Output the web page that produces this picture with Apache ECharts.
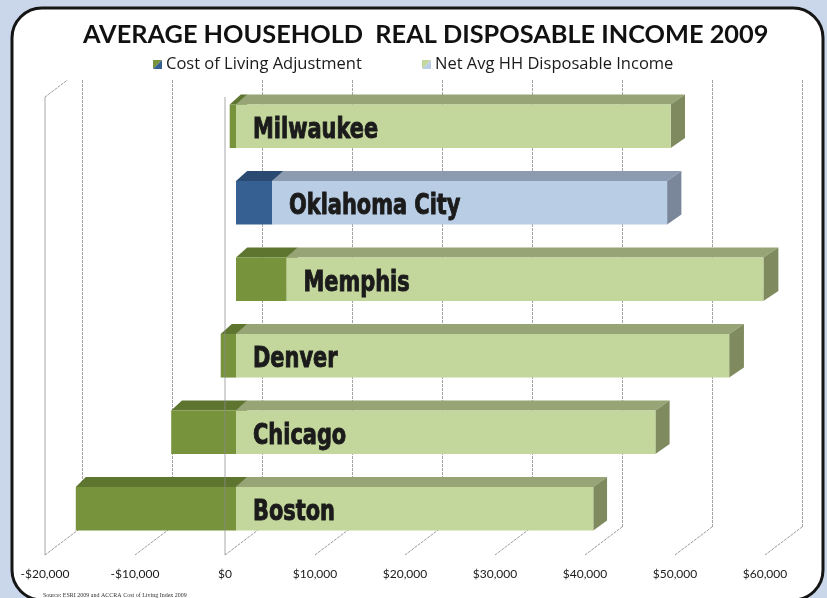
<!DOCTYPE html>
<html><head><meta charset="utf-8">
<script src="https://cdn.jsdelivr.net/npm/echarts@6/dist/echarts.min.js"></script>
<style>html,body{margin:0;padding:0;background:#CAD6EA;} #c{width:827px;height:598px;}</style>
</head><body><div id="c"></div>
<script>
// ---- data ----
const categories = ['Milwaukee', 'Oklahoma City', 'Memphis', 'Denver', 'Chicago', 'Boston'];
const colaValues = [-700, 4000, 5600, -1700, -7200, -17800];
const netValues = [48300, 43900, 53000, 54800, 46600, 39700];
const tickValues = [-20000, -10000, 0, 10000, 20000, 30000, 40000, 50000, 60000];
const seriesNames = ['Cost of Living Adjustment', 'Net Avg HH Disposable Income'];
const titleText = 'AVERAGE HOUSEHOLD  REAL DISPOSABLE INCOME 2009';
const sourceText = 'Source: ESRI 2009 and ACCRA Cost of Living Index 2009';
const highlightCity = 'Oklahoma City';

// ---- styles ----
const palettes = {
  cola: [
    { front: '#77933C', top: '#5E7530', side: '#4F6228' },
    { front: '#376092', top: '#2A4A72', side: '#243F60' }
  ],
  net: [
    { front: '#C3D69B', top: '#97A475', side: '#7F8A5E' },
    { front: '#B9CDE5', top: '#8C9BB0', side: '#7A879B' }
  ]
};
const svgIcon = (a, b) => 'image://data:image/svg+xml;utf8,' + encodeURIComponent(
  "<svg xmlns='http://www.w3.org/2000/svg' width='10' height='10'><polygon points='0,0 10,0 0,10' fill='" + a +
  "'/><polygon points='10,0 10,10 0,10' fill='" + b + "'/></svg>");

// stacked segments (Excel style: negatives stack separately from positives)
const colaData = categories.map((c, i) => [i, 0, colaValues[i]]);
const netData = categories.map((c, i) => {
  const s = colaValues[i] > 0 ? colaValues[i] : 0;
  return [i, s, s + netValues[i]];
});

function money(v) {
  const s = '$' + Math.abs(v).toLocaleString('en-US');
  return v < 0 ? '-' + s : s;
}

function barRender(kind) {
  return function (params, api) {
    const cat = api.value(0);
    const p0 = api.coord([api.value(1), cat]);
    const p1 = api.coord([api.value(2), cat]);
    const band = api.size([0, 1])[1];
    const h = band * 0.57;
    const yt = p0[1] - h / 2, yb = p0[1] + h / 2;
    const x0 = Math.min(p0[0], p1[0]), x1 = Math.max(p0[0], p1[0]);
    const dy = 10;
    const dxAt = x => 10 + 5 * (x - 76) / 690;
    const pal = palettes[kind][categories[cat] === highlightCity ? 1 : 0];
    const children = [
      { type: 'polygon', shape: { points: [[x0, yt], [x1, yt], [x1 + dxAt(x1), yt - dy], [x0 + dxAt(x0), yt - dy]] }, style: { fill: pal.top } },
      { type: 'polygon', shape: { points: [[x1, yt], [x1 + dxAt(x1), yt - dy], [x1 + dxAt(x1), yb - dy], [x1, yb]] }, style: { fill: pal.side } },
      { type: 'rect', shape: { x: x0, y: yt, width: x1 - x0, height: yb - yt }, style: { fill: pal.front } }
    ];
    if (kind === 'net') {
      children.push({
        type: 'text', x: x0 + 17, y: p0[1] + 4, scaleX: 0.83, scaleY: 1.02,
        style: {
          text: categories[cat], x: 0, y: 0, verticalAlign: 'middle', align: 'left',
          fontFamily: "'Liberation Sans Narrow', 'DejaVu Sans Condensed', sans-serif",
          fontWeight: 'bold', fontSize: 28, fill: '#1b1b1b', stroke: '#1b1b1b', lineWidth: 0.9
        }
      });
    }
    return { type: 'group', children };
  };
}

function decoUnder(params, api) {
  const v = api.value(0);
  const b = api.coord([v, 0]);
  return { type: 'line', shape: { x1: b[0], y1: b[1], x2: b[0] + 37, y2: b[1] - 28 }, style: { stroke: '#9a9a9a', lineWidth: 1, lineDash: [3, 1] } };
}
function decoOver(params, api) {
  const v = api.value(0);
  const b = api.coord([v, 0]);
  const t = api.coord([v, 1]);
  const children = [];
  if (v === tickValues[0] || v === 0) {
    children.push({ type: 'line', shape: { x1: b[0], y1: b[1], x2: t[0], y2: t[1] }, style: { stroke: 'rgba(140,140,140,0.75)', lineWidth: 1 } });
  }
  if (v === tickValues[0]) {
    children.push({ type: 'line', shape: { x1: t[0], y1: t[1], x2: t[0] + 22.5, y2: t[1] - 17 }, style: { stroke: '#9a9a9a', lineWidth: 1, lineDash: [3, 1] } });
  }
  return { type: 'group', children };
}

const legendText = { fontFamily: 'Open Sans', fontSize: 16.5, color: '#1a1a1a', padding: [0, 0, 0, -1] };

const chart = echarts.init(document.getElementById('c'));
chart.setOption({
  backgroundColor: '#CAD6EA',
  animation: false,
  graphic: [{
    type: 'rect', z: -10, silent: true,
    shape: { x: 12, y: 8, width: 811, height: 592, r: 30 },
    style: { fill: '#ffffff', stroke: '#151515', lineWidth: 3 }
  }],
  title: [
    { text: titleText, left: 78, top: 17, textStyle: { fontFamily: 'Lato', fontWeight: 'bold', fontSize: 25.3, color: '#111' } },
    { text: sourceText, left: 38, top: 587, textStyle: { fontFamily: 'Liberation Serif', fontWeight: 'normal', fontSize: 6, color: '#333' } }
  ],
  legend: [
    { left: 148, top: 51, itemWidth: 9, itemHeight: 9, textStyle: legendText,
      data: [{ name: seriesNames[0], icon: svgIcon(palettes.cola[0].front, palettes.cola[1].front) }] },
    { left: 417, top: 51, itemWidth: 9, itemHeight: 9, textStyle: legendText,
      data: [{ name: seriesNames[1], icon: svgIcon(palettes.net[0].front, palettes.net[1].front) }] }
  ],
  grid: [
    { left: 56, width: 720, top: 88, height: 459 },
    { left: 82, width: 720, top: 80, height: 447 },
    { left: 45, width: 720, top: 97, height: 458 }
  ],
  xAxis: [
    { gridIndex: 0, type: 'value', min: -20000, max: 60000, interval: 10000, show: false },
    { gridIndex: 1, type: 'value', min: -20000, max: 60000, interval: 10000,
      axisLine: { show: false }, axisTick: { show: false }, axisLabel: { show: false },
      splitLine: { show: true, lineStyle: { color: '#a3a3a3', width: 1, type: [3, 1] } } },
    { gridIndex: 2, type: 'value', min: -20000, max: 60000, interval: 10000,
      axisLine: { show: false }, axisTick: { show: false }, splitLine: { show: false },
      axisLabel: { margin: 13, formatter: money, fontFamily: 'Lato', fontSize: 12, color: '#1a1a1a' } }
  ],
  yAxis: [
    { gridIndex: 0, type: 'category', data: categories, inverse: true, show: false },
    { gridIndex: 1, type: 'value', min: 0, max: 1, show: false },
    { gridIndex: 2, type: 'value', min: 0, max: 1, show: false }
  ],
  series: [
    { type: 'custom', name: 'deco-under', xAxisIndex: 2, yAxisIndex: 2, z: 1, silent: true,
      data: tickValues.map(v => [v]), renderItem: decoUnder, encode: { x: 0 } },
    { type: 'custom', name: seriesNames[0], xAxisIndex: 0, yAxisIndex: 0, z: 2,
      color: palettes.cola[0].front, data: colaData, renderItem: barRender('cola'), encode: { x: [1, 2], y: 0 } },
    { type: 'custom', name: seriesNames[1], xAxisIndex: 0, yAxisIndex: 0, z: 2,
      color: palettes.net[0].front, data: netData, renderItem: barRender('net'), encode: { x: [1, 2], y: 0 } },
    { type: 'custom', name: 'deco-over', xAxisIndex: 2, yAxisIndex: 2, z: 3, silent: true,
      data: tickValues.map(v => [v]), renderItem: decoOver, encode: { x: 0 } }
  ]
});
</script></body></html>
